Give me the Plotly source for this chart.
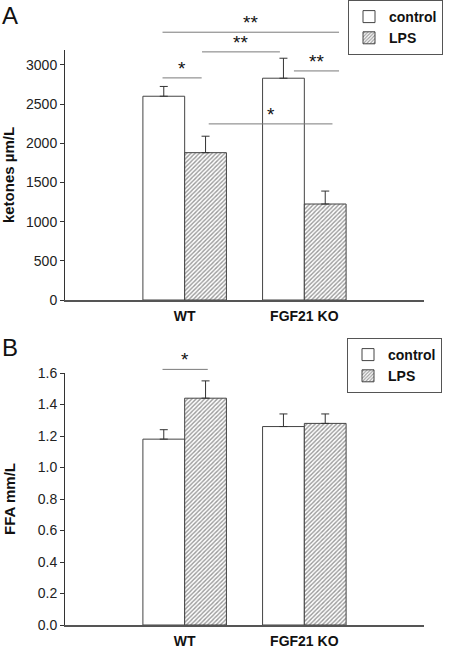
import plotly.graph_objects as go

# ---------------- data ----------------
groups = ["WT", "FGF21 KO"]
series_names = ["control", "LPS"]

ketones_control = [2600, 2830]
ketones_control_err = [125, 255]
ketones_lps = [1880, 1225]
ketones_lps_err = [210, 165]

ffa_control = [1.18, 1.26]
ffa_control_err = [0.06, 0.08]
ffa_lps = [1.44, 1.28]
ffa_lps_err = [0.11, 0.06]

ketone_ticks = [0, 500, 1000, 1500, 2000, 2500, 3000]
ffa_ticks = [0.0, 0.2, 0.4, 0.6, 0.8, 1.0, 1.2, 1.4, 1.6]

# significance brackets: (panel, x_start, x_end (category units), y value, label)
brackets = [
    ("A", -0.185, 1.290, 3417, "**"),
    ("A", 0.145, 0.796, 3166, "**"),
    ("A", -0.185, 0.142, 2834, "*"),
    ("A", 0.913, 1.290, 2923, "**"),
    ("A", 0.201, 1.235, 2247, "*"),
    ("B", -0.185, 0.193, 1.623, "*"),
]

# ---------------- layout constants ----------------
W, H = 450, 648
XDOM = [65 / W, 424 / W]
YDOM_A = [1 - 300 / H, 1 - 50 / H]
YDOM_B = [1 - 625 / H, 1 - 373 / H]
XRANGE = [-1, 2]
YRANGE_A = [0, 3190]
YRANGE_B = [0, 1.6]

FONT = "Liberation Sans, Arial, sans-serif"
HATCH = dict(shape="/", fgcolor="#333", bgcolor="white", size=3, solidity=0.45)

fig = go.Figure()


def add_bars(vals, errs, name, hatched, xa, ya, legend):
    fig.add_trace(go.Bar(
        x=groups, y=vals, name=name,
        xaxis=xa, yaxis=ya, legend=legend, showlegend=True,
        marker=dict(
            color="white",
            line=dict(color="#444", width=1),
            pattern=HATCH if hatched else dict(shape=""),
        ),
        error_y=dict(type="data", symmetric=False, array=errs, arrayminus=[0] * len(errs),
                     color="#333", thickness=1, width=4),
    ))


add_bars(ketones_control, ketones_control_err, series_names[0], False, "x", "y", "legend")
add_bars(ketones_lps, ketones_lps_err, series_names[1], True, "x", "y", "legend")
add_bars(ffa_control, ffa_control_err, series_names[0], False, "x2", "y2", "legend2")
add_bars(ffa_lps, ffa_lps_err, series_names[1], True, "x2", "y2", "legend2")


def px_x(c):
    return XDOM[0] + (c - XRANGE[0]) / (XRANGE[1] - XRANGE[0]) * (XDOM[1] - XDOM[0])


def px_y(v, panel):
    dom, rng = (YDOM_A, YRANGE_A) if panel == "A" else (YDOM_B, YRANGE_B)
    return dom[0] + (v - rng[0]) / (rng[1] - rng[0]) * (dom[1] - dom[0])


shapes = []
annotations = []
for panel, xs, xe, yv, lab in brackets:
    yp = px_y(yv, panel)
    shapes.append(dict(type="line", xref="paper", yref="paper",
                       x0=px_x(xs), x1=px_x(xe), y0=yp, y1=yp,
                       line=dict(color="#7a7a7a", width=1)))
    annotations.append(dict(text=lab, xref="paper", yref="paper",
                            x=(px_x(xs) + px_x(xe)) / 2, y=yp, yshift=-3,
                            xanchor="center", yanchor="bottom", showarrow=False,
                            font=dict(family=FONT, size=19, color="#111")))

for lab, ytop in [("A", 1.0), ("B", 1 - 332 / H)]:
    annotations.append(dict(text=lab, xref="paper", yref="paper", x=0.0, y=ytop,
                            xanchor="left", yanchor="top", showarrow=False,
                            font=dict(family=FONT, size=24, color="#111")))

common_x = dict(range=XRANGE, domain=XDOM, showline=True, linecolor="#555", linewidth=1.5,
                ticks="", showgrid=False, zeroline=False, fixedrange=True,
                tickfont=dict(family=FONT, size=14, color="#111", weight="bold"),
                ticklabelstandoff=2)
common_y = dict(showline=True, linecolor="#333", linewidth=1, ticks="outside", ticklen=4,
                tickcolor="#333", showgrid=False, zeroline=False,
                tickfont=dict(family=FONT, size=14, color="#222"))

legend_style = dict(bordercolor="#555", borderwidth=1, bgcolor="white",
                    font=dict(family=FONT, size=14, color="#111", weight="bold"),
                    xanchor="left", yanchor="top", tracegroupgap=0, itemwidth=30)

fig.update_layout(
    width=W, height=H,
    margin=dict(l=0, r=0, t=0, b=0, autoexpand=False),
    paper_bgcolor="white", plot_bgcolor="white",
    barmode="group", bargap=0.302, bargroupgap=0,
    xaxis=dict(common_x, anchor="y"),
    yaxis=dict(common_y, domain=YDOM_A, range=YRANGE_A, anchor="x", tickvals=ketone_ticks,
               ticktext=[str(t) for t in ketone_ticks],
               title=dict(text="ketones µm/L", standoff=18,
                          font=dict(family=FONT, size=15, color="#111", weight="bold"))),
    xaxis2=dict(common_x, anchor="y2"),
    yaxis2=dict(common_y, domain=YDOM_B, range=YRANGE_B, anchor="x2", tickvals=ffa_ticks,
                ticktext=[f"{t:.1f}" for t in ffa_ticks],
                title=dict(text="FFA mm/L", standoff=18,
                           font=dict(family=FONT, size=15, color="#111", weight="bold"))),
    legend=dict(legend_style, x=348 / W, y=1.0),
    legend2=dict(legend_style, x=347 / W, y=1 - 338 / H),
    shapes=shapes,
    annotations=annotations,
)

fig.write_html("out.html", config={"displayModeBar": False},
               post_script="document.body.style.margin='0px';")
